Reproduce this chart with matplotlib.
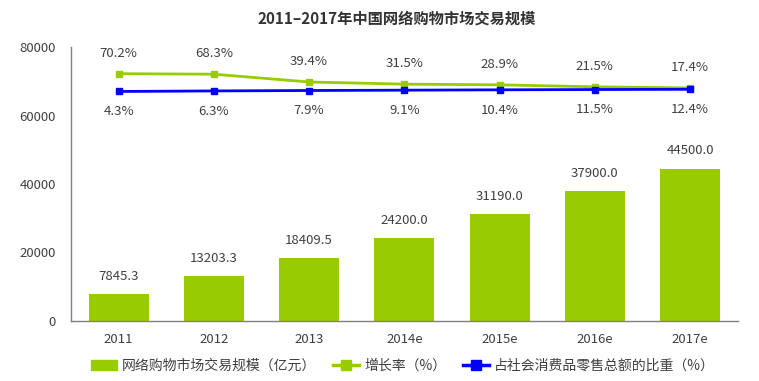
import numpy as np
import matplotlib.pyplot as plt
from matplotlib.patches import Patch
from matplotlib.lines import Line2D

plt.rcParams['font.family'] = ['Noto Sans CJK SC', 'DejaVu Sans']

years = ['2011', '2012', '2013', '2014e', '2015e', '2016e', '2017e']
scale = [7845.3, 13203.3, 18409.5, 24200.0, 31190.0, 37900.0, 44500.0]
growth = [70.2, 68.3, 39.4, 31.5, 28.9, 21.5, 17.4]
share = [4.3, 6.3, 7.9, 9.1, 10.4, 11.5, 12.4]

bar_color = '#99CC00'
blue = '#0000FF'
txt = '#404040'

fig = plt.figure(figsize=(7.59, 3.81), dpi=100)
ax = fig.add_axes([0.0935, 0.1575, 0.8785, 0.7191])
x = np.arange(len(years))

ax.bar(x, scale, width=0.63, color=bar_color, zorder=2)
for i, v in enumerate(scale):
    ax.annotate('%.1f' % v, (i, v), xytext=(0, 8), textcoords='offset points',
                ha='center', va='bottom', fontsize=9.5, color=txt)

ax.set_xlim(-0.5, 6.5)
ax.set_ylim(0, 80000)
ax.set_yticks([0, 20000, 40000, 60000, 80000])
ax.set_xticks(x)
ax.set_xticklabels(years)
ax.tick_params(length=0, labelsize=9.5, colors=txt)
ax.tick_params(axis='x', pad=9)
ax.tick_params(axis='y', pad=11)
for s in ['top', 'right']:
    ax.spines[s].set_visible(False)
for s in ['left', 'bottom']:
    ax.spines[s].set_color('#808080')
    ax.spines[s].set_linewidth(1)

# hidden secondary axis for the two percentage lines
ax2 = ax.twinx()
ax2.set_ylim(-846, 169)
ax2.axis('off')
ax2.plot(x, growth, color=bar_color, lw=2, marker='s', markersize=4.8, zorder=3)
ax2.plot(x, share, color=blue, lw=2, marker='s', markersize=4.8, zorder=4)
for i in range(len(years)):
    ax2.annotate('%.1f%%' % growth[i], (i, growth[i]), xytext=(0, 10), textcoords='offset points',
                 ha='center', va='bottom', fontsize=9.5, color=txt)
    ax2.annotate('%.1f%%' % share[i], (i, share[i]), xytext=(0, -10), textcoords='offset points',
                 ha='center', va='top', fontsize=9.5, color=txt)

fig.text(0.522, 0.952, '2011–2017年中国网络购物市场交易规模', ha='center', va='center',
         fontsize=11, fontweight='bold', color='#333333')

handles = [Patch(color=bar_color),
           Line2D([], [], color=bar_color, lw=2.5, marker='s', markersize=7),
           Line2D([], [], color=blue, lw=2.5, marker='s', markersize=7)]
labels = ['网络购物市场交易规模（亿元）', '增长率（%）', '占社会消费品零售总额的比重（%）']
fig.legend(handles, labels, loc='lower left', bbox_to_anchor=(0.103, -0.012), ncol=3,
           frameon=False, fontsize=10, handlelength=1.9, handletextpad=0.35,
           columnspacing=1.2, labelcolor=txt)

fig.savefig('out.png', dpi=100)
